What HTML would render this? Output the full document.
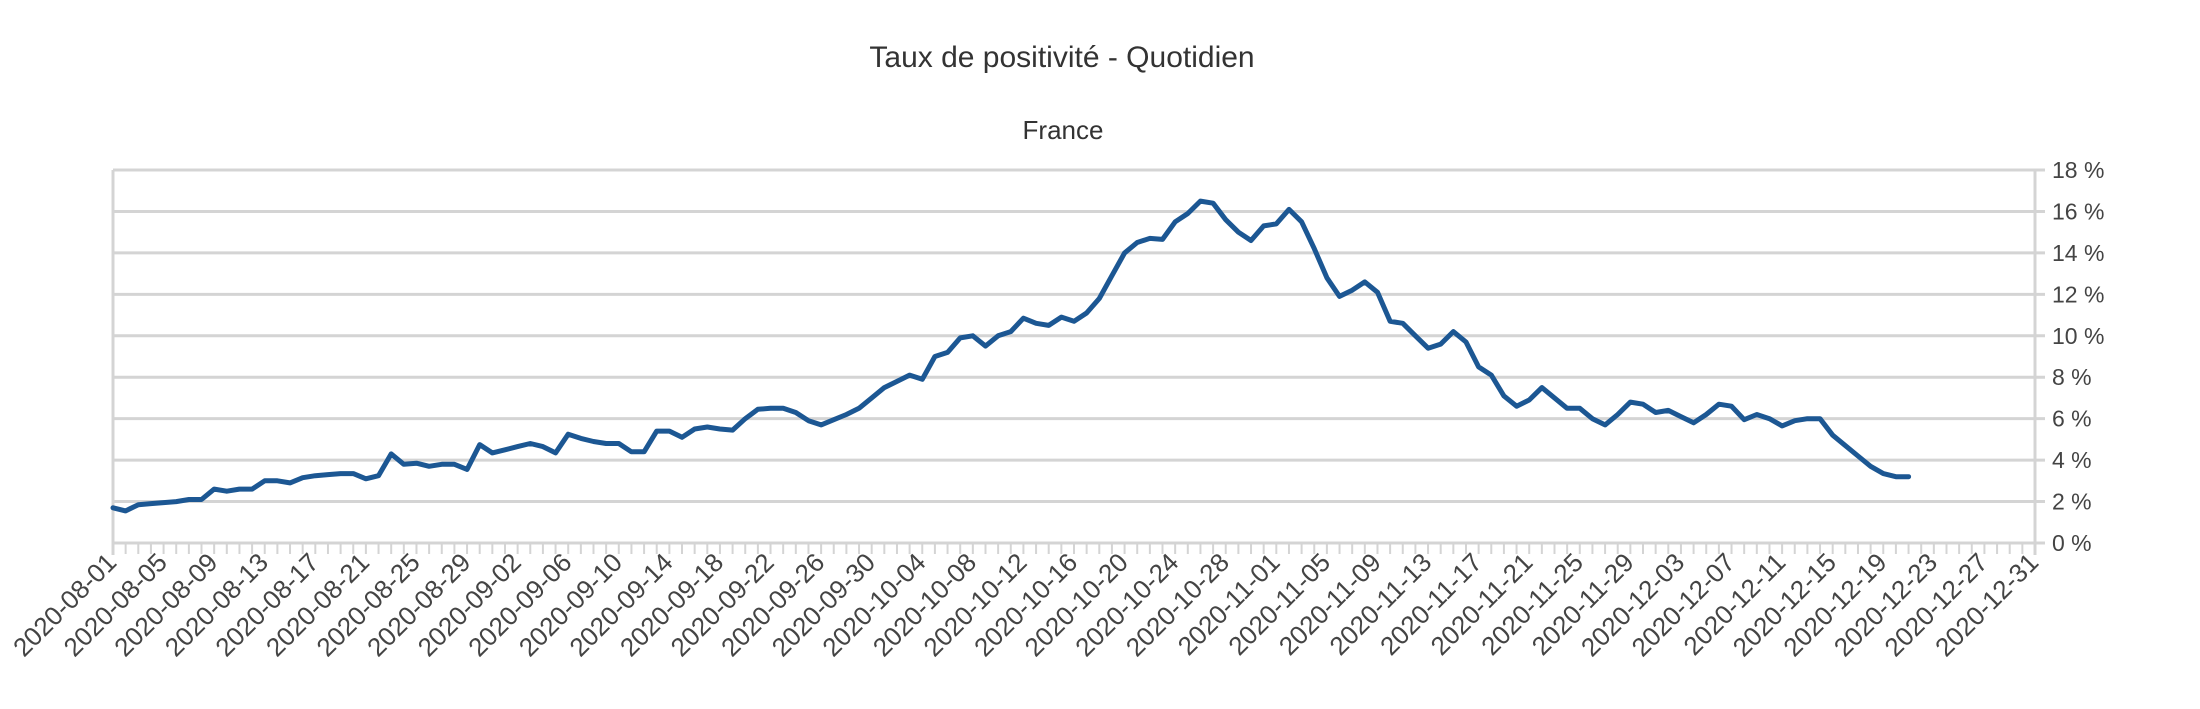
<!DOCTYPE html>
<html><head><meta charset="utf-8">
<style>
html,body{margin:0;padding:0;background:#fff;}
svg{display:block;font-family:"Liberation Sans",sans-serif;}
</style></head>
<body>
<svg id="chart" width="2200" height="709" viewBox="0 0 2200 709" xmlns="http://www.w3.org/2000/svg">
<text x="1062" y="67" font-size="30" fill="#333" text-anchor="middle">Taux de positivité - Quotidien</text>
<text x="1063" y="139" font-size="26" fill="#333" text-anchor="middle">France</text>
<g id="grid"></g>
<g id="axes"></g>
<g id="series"></g>
</svg>
<script>
const yTicks = [0,2,4,6,8,10,12,14,16,18];
const yTickLabels = ["0 %","2 %","4 %","6 %","8 %","10 %","12 %","14 %","16 %","18 %"];
const startDate = "2020-08-01";
const dayCount = 153;
const values = [1.7,1.55,1.85,1.9,1.95,2.0,2.1,2.1,2.6,2.5,2.6,2.6,3.0,3.0,2.9,3.15,3.25,3.3,3.35,3.35,
3.1,3.25,4.3,3.8,3.85,3.7,3.8,3.8,3.55,4.75,4.35,4.5,4.65,4.8,4.65,4.35,5.25,5.05,4.9,4.8,
4.8,4.4,4.4,5.4,5.4,5.1,5.5,5.6,5.5,5.45,6.0,6.45,6.5,6.5,6.3,5.9,5.7,5.95,6.2,6.5,
7.0,7.5,7.8,8.1,7.9,9.0,9.2,9.9,10.0,9.5,10.0,10.2,10.85,10.6,10.5,10.9,10.7,11.1,11.8,12.9,
14.0,14.5,14.7,14.65,15.5,15.9,16.5,16.4,15.6,15.0,14.6,15.3,15.4,16.1,15.5,14.2,12.8,11.9,12.2,12.6,
12.1,10.7,10.6,10.0,9.4,9.6,10.2,9.7,8.5,8.1,7.1,6.6,6.9,7.5,7.0,6.5,6.5,6.0,5.7,6.2,
6.8,6.7,6.3,6.4,6.1,5.8,6.2,6.7,6.6,5.95,6.2,6.0,5.65,5.9,6.0,6.0,5.2,4.7,4.2,3.7,
3.35,3.2,3.2];

const NS="http://www.w3.org/2000/svg";
const L=113,R=2035,T=170,B=543,YMAX=18;
const xOf=i=>L+i*(R-L)/(dayCount-1);
const yOf=v=>B-v/YMAX*(B-T);
function mk(tag,attrs,parent){const e=document.createElementNS(NS,tag);for(const k in attrs)e.setAttribute(k,attrs[k]);parent.appendChild(e);return e;}
const grid=document.getElementById('grid'),axes=document.getElementById('axes'),series=document.getElementById('series');

yTicks.forEach((t,i)=>{
  const y=yOf(t);
  const g=mk('line',{x1:L,x2:R+10,y1:y,y2:y,stroke:'#d4d4d4','stroke-width':3},grid);
  
  
  const tx=mk('text',{x:R+17,y:y+8,'font-size':23,fill:'#444'},axes);
  tx.textContent=yTickLabels[i];
  
  
});
const la=mk('line',{x1:L,x2:L,y1:T,y2:B+12,stroke:'#d4d4d4','stroke-width':3},axes);


const ra=mk('line',{x1:R,x2:R,y1:T,y2:B+12,stroke:'#d4d4d4','stroke-width':3},axes);



const d0=new Date(startDate+"T00:00:00Z");
for(let i=0;i<dayCount;i++){
  const x=xOf(i);
  const tk=mk('line',{x1:x,x2:x,y1:B,y2:B+11,stroke:'#d4d4d4','stroke-width':2},axes);
  
  
  if(i%4===0){
    const d=new Date(d0.getTime()+i*86400000);
    const s=d.toISOString().slice(0,10);
    const tx=mk('text',{x:x+5,y:564,'font-size':26,fill:'#444','text-anchor':'end',transform:`rotate(-45 ${x+5} 564)`},axes);
    tx.textContent=s;
    
    
  }
}
const pts=values.map((v,i)=>xOf(i).toFixed(1)+','+yOf(v).toFixed(1)).join(' ');
const pl=mk('polyline',{points:pts,fill:'none',stroke:'#1c5793','stroke-width':5,'stroke-linejoin':'round','stroke-linecap':'round'},series);


</script>
</body></html>
